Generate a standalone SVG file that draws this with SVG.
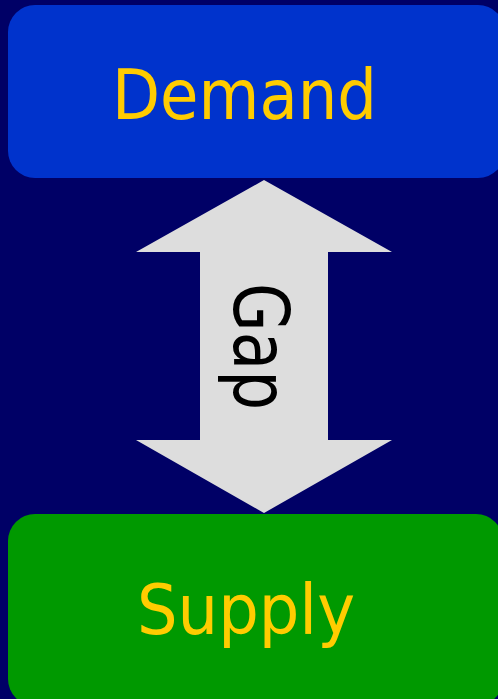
<svg xmlns="http://www.w3.org/2000/svg" width="498" height="699" viewBox="0 0 498 699">
  <style>
    .box-label { font-family: "DejaVu Sans", Verdana, sans-serif; fill: #FFCC00; text-anchor: middle; }
    .gap-label { font-family: "DejaVu Sans", Verdana, sans-serif; fill: #000000; text-anchor: middle; }
  </style>
  <!-- background -->
  <rect x="0" y="0" width="498" height="699" fill="#000066"/>

  <g id="demand">
    <rect x="8" y="5" width="497" height="173" rx="27" ry="27" fill="#0033CC"/>
    <text class="box-label" x="244.5" y="119" font-size="70" textLength="265" lengthAdjust="spacingAndGlyphs">Demand</text>
  </g>

  <g id="supply">
    <rect x="8" y="514" width="495" height="192" rx="27" ry="27" fill="#009900"/>
    <text class="box-label" x="246" y="634" font-size="70" textLength="218" lengthAdjust="spacingAndGlyphs">Supply</text>
  </g>

  <g id="connectors">
    <!-- two-headed block arrow between the boxes -->
    <polygon points="264,180 392,252 328,252 328,440 392,440 264,513 136,440 200,440 200,252 136,252" fill="#DDDDDD"/>
    <text class="gap-label" transform="translate(234,346.5) rotate(90)" x="0" y="0" font-size="77" textLength="127" lengthAdjust="spacingAndGlyphs">Gap</text>
  </g>
</svg>
